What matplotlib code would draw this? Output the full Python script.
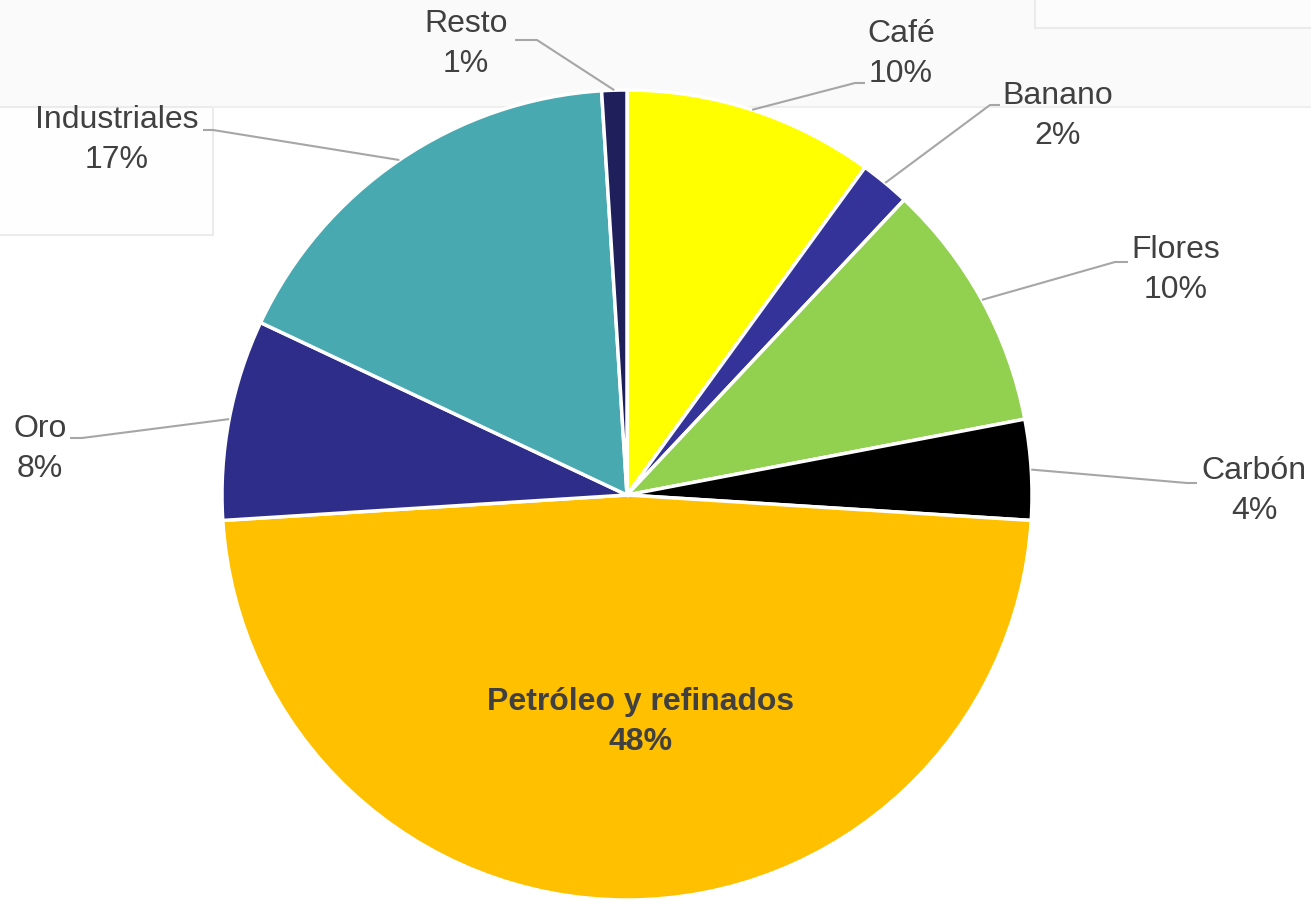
import matplotlib.pyplot as plt
from matplotlib.patches import Rectangle
import numpy as np

plt.rcParams['font.family'] = ['Liberation Sans', 'DejaVu Sans']

# export shares, clockwise from 12 o'clock
categories = ['Café', 'Banano', 'Flores', 'Carbón', 'Petróleo y refinados',
              'Oro', 'Industriales', 'Resto']
shares = [10, 2, 10, 4, 48, 8, 17, 1]
colors = ['#FFFF00', '#333399', '#92D050', '#000000', '#FFC000',
          '#2E2E8A', '#48A9B0', '#1F1F5C']

W, H = 1311, 901
fig = plt.figure(figsize=(W / 100, H / 100), dpi=100)
fig.patch.set_facecolor('white')
ax = fig.add_axes([0, 0, 1, 1])

# faint slide panels behind the chart
ax.add_patch(Rectangle((0, H - 107), W, 107, facecolor='#FAFAFA', edgecolor='none', zorder=0))
ax.add_patch(Rectangle((1035, H - 28), 300, 40, facecolor='#FCFCFC', edgecolor='#EBEBEB', lw=1.5, zorder=0))
ax.add_patch(Rectangle((-10, H - 235), 223, 128, facecolor='#FEFEFE', edgecolor='#EBEBEB', lw=1.5, zorder=0))
ax.plot([213, W], [H - 107, H - 107], color='#EFEFEF', lw=1.5, zorder=0)

cx, cy, r = 627, H - 495, 405
wedges, _ = ax.pie(shares, colors=colors, startangle=90, counterclock=False,
                   center=(cx, cy), radius=r, frame=True,
                   wedgeprops=dict(edgecolor='white', linewidth=2.5))
ax.set_xlim(0, W)
ax.set_ylim(0, H)
ax.set_aspect('equal')
ax.axis('off')

# outside labels: text centre, elbow point, end of the horizontal stub
label_pos = {
    'Café': ((901, 54), (855, 83), (865, 83)),
    'Banano': ((1058, 116), (990, 105), (1000, 105)),
    'Flores': ((1176, 270), (1115, 262), (1128, 262)),
    'Carbón': ((1254, 491), (1187, 483), (1197, 483)),
    'Oro': ((40, 449), (82, 438), (70, 438)),
    'Industriales': ((117, 140), (213, 130), (203, 130)),
    'Resto': ((466, 44), (537, 40), (515, 40)),
}

total = sum(shares)
cum = 0
for name, val in zip(categories, shares):
    mid = 90 - 360 * (cum + val / 2) / total
    cum += val
    text = f'{name}\n{val}%'
    if name in label_pos:
        (tx, ty), (ex, ey), (sx, sy) = label_pos[name]
        px = cx + r * np.cos(np.radians(mid))
        py = cy + r * np.sin(np.radians(mid))
        ax.plot([px, ex, sx], [py, H - ey, H - sy], color='#A6A6A6', lw=1.5,
                zorder=3, solid_capstyle='butt')
        ax.text(tx, H - ty, text, ha='center', va='center', fontsize=23,
                color='#404040', linespacing=1.4, zorder=4)
    else:
        ax.text(641, H - 722, text, ha='center', va='center', fontsize=23,
                color='#404040', fontweight='bold', linespacing=1.4, zorder=4)

fig.savefig('out.png', dpi=100)
